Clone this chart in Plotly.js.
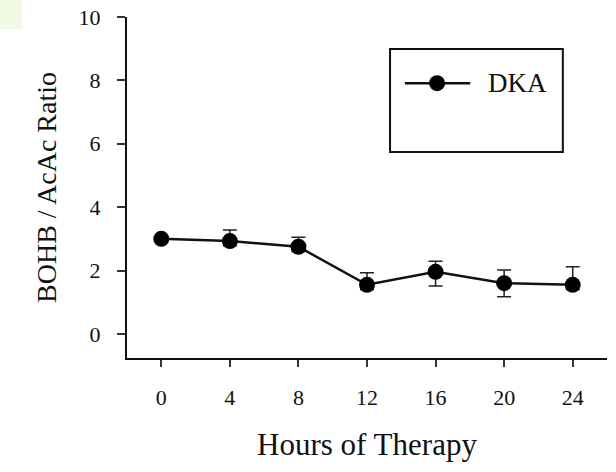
<!DOCTYPE html>
<html>
<head>
<meta charset="utf-8">
<script src="https://cdn.plot.ly/plotly-3.0.1.min.js"></script>
<style>html,body{margin:0;padding:0;background:#fff;}#chart{width:616px;height:472px;}</style>
</head>
<body>
<div id="chart"></div>
<script>
var hours = [0, 4, 8, 12, 16, 20, 24];
var ratio = [3.0, 2.93, 2.75, 1.55, 1.96, 1.6, 1.55];
var errPlus = [0.0, 0.35, 0.3, 0.38, 0.33, 0.42, 0.57];
var errMinus = [0.0, 0.15, 0.15, 0.15, 0.45, 0.43, 0.15];
var xTicks = [0, 4, 8, 12, 16, 20, 24];
var yTicks = [0, 2, 4, 6, 8, 10];
var seriesName = "DKA";

var serif = "Liberation Serif";

var trace = {
  x: hours, y: ratio, name: seriesName,
  type: "scatter", mode: "lines+markers",
  line: {color: "#111", width: 2.5},
  marker: {color: "#000", size: 16},
  error_y: {type: "data", symmetric: false, array: errPlus, arrayminus: errMinus,
            color: "#222", thickness: 1.5, width: 7}
};

var layout = {
  width: 616, height: 472,
  margin: {l: 127, r: 9, t: 17, b: 114},
  paper_bgcolor: "#fff", plot_bgcolor: "#fff",
  showlegend: false,
  xaxis: {
    range: [-2, 26], tickvals: xTicks, ticktext: xTicks.map(String),
    showgrid: false, zeroline: false, showline: true, linecolor: "#111", linewidth: 2,
    ticks: "outside", ticklen: 7, tickwidth: 1.5, tickcolor: "#333",
    ticklabelstandoff: 12,
    tickfont: {family: serif, size: 22, color: "#111"},
    title: {text: "Hours of Therapy", font: {family: serif, size: 31, color: "#111"}, standoff: 24}
  },
  yaxis: {
    range: [-0.76, 10], tickvals: yTicks, ticktext: yTicks.map(String),
    showgrid: false, zeroline: false, showline: true, linecolor: "#111", linewidth: 2,
    ticks: "outside", ticklen: 8, tickwidth: 1.5, tickcolor: "#333",
    ticklabelstandoff: 12,
    tickfont: {family: serif, size: 22, color: "#111"},
    title: {text: "BOHB / AcAc Ratio", font: {family: serif, size: 28, color: "#111"}, standoff: 14}
  },
  shapes: [
    {type: "rect", xref: "paper", yref: "paper", x0: 0.548, x1: 0.908, y0: 0.604, y1: 0.906,
     line: {color: "#111", width: 2}, fillcolor: "rgba(0,0,0,0)"},
    {type: "line", xref: "paper", yref: "paper", x0: 0.579, x1: 0.715, y0: 0.806, y1: 0.806,
     line: {color: "#111", width: 2.5}},
    {type: "circle", xref: "paper", yref: "paper", xsizemode: "pixel", ysizemode: "pixel",
     xanchor: 0.646, yanchor: 0.806, x0: -8, x1: 8, y0: -8, y1: 8,
     line: {color: "#000", width: 0}, fillcolor: "#000"},
    {type: "rect", xref: "paper", yref: "paper", x0: -0.265, x1: -0.219, y0: 0.965, y1: 1.05,
     line: {width: 0}, fillcolor: "#f1f9e2"}
  ],
  annotations: [
    {xref: "paper", yref: "paper", x: 0.748, y: 0.806, xanchor: "left", yanchor: "middle",
     text: seriesName, showarrow: false, font: {family: serif, size: 27, color: "#111"}}
  ]
};

Plotly.newPlot("chart", [trace], layout, {displayModeBar: false});
</script>
</body>
</html>
